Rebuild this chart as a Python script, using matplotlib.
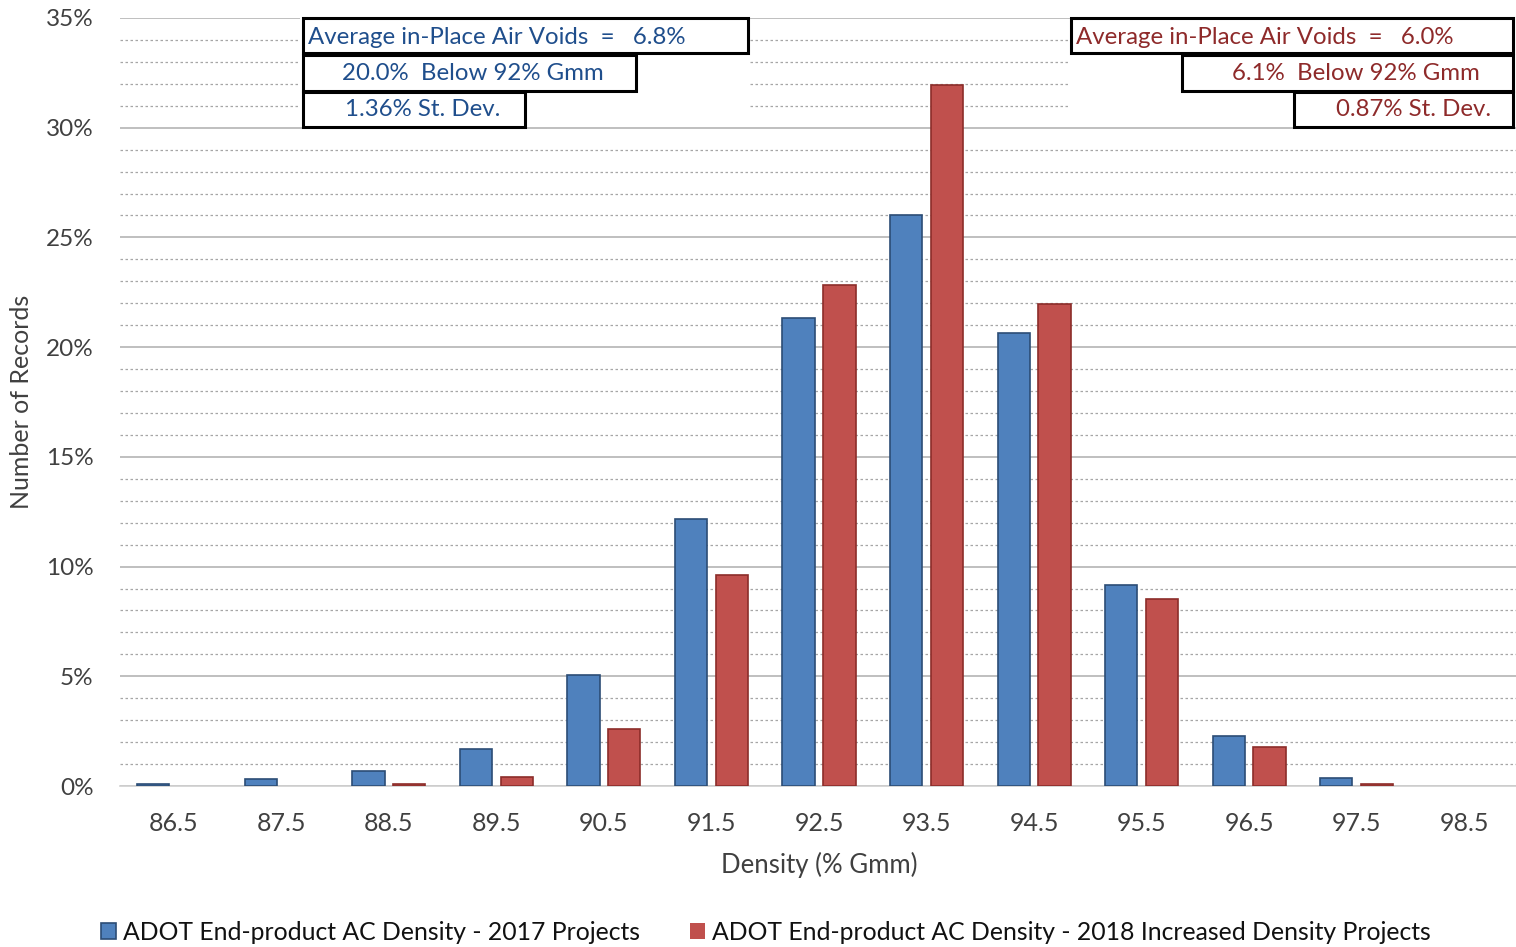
import matplotlib
matplotlib.use("Agg")
import matplotlib.pyplot as plt
from matplotlib.patches import Rectangle
import numpy as np

plt.rcParams['font.family'] = ['Lato', 'DejaVu Sans']

categories = ["86.5", "87.5", "88.5", "89.5", "90.5", "91.5", "92.5",
              "93.5", "94.5", "95.5", "96.5", "97.5", "98.5"]
values_2017 = [0.1, 0.3, 0.7, 1.7, 5.05, 12.15, 21.35, 26.0, 20.65, 9.15, 2.3, 0.35, 0.0]
values_2018 = [0.0, 0.0, 0.1, 0.4, 2.6, 9.6, 22.85, 31.95, 21.95, 8.5, 1.8, 0.1, 0.0]
series_names = ["ADOT End-product AC Density - 2017 Projects",
                "ADOT End-product AC Density - 2018 Increased Density Projects"]
yticks = [0, 5, 10, 15, 20, 25, 30, 35]

left_notes = ["Average in-Place Air Voids  =   6.8%", "20.0%  Below 92% Gmm", "1.36% St. Dev."]
right_notes = ["Average in-Place Air Voids  =   6.0%", "6.1%  Below 92% Gmm", "0.87% St. Dev."]

W, H = 1516, 947
fig = plt.figure(figsize=(W / 100, H / 100), dpi=100)
fig.patch.set_facecolor("white")

ax_l, ax_t, ax_r, ax_b = 120, 18, 1518, 786
ax = fig.add_axes([ax_l / W, 1 - ax_b / H, (ax_r - ax_l) / W, (ax_b - ax_t) / H])

x = np.arange(len(categories))
bw = 0.30
off = 0.19
blue = "#4F81BD"
red = "#C0504D"
lw17 = [1.2 if v > 0 else 0 for v in values_2017]
lw18 = [1.2 if v > 0 else 0 for v in values_2018]
ax.bar(x - off, values_2017, width=bw, color=blue, edgecolor="#2C4D75", linewidth=lw17,
       label=series_names[0], zorder=3)
ax.bar(x + off, values_2018, width=bw, color=red, edgecolor="#8C2D2A", linewidth=lw18,
       label=series_names[1], zorder=3)

ax.set_xlim(-0.5, len(categories) - 0.5)
ax.set_ylim(0, 35)
ax.set_yticks(yticks)
ax.set_yticklabels([f"{v}%" for v in yticks])
ax.set_yticks(np.arange(0, 36, 1), minor=True)
ax.set_xticks(x)
ax.set_xticklabels(categories)
ax.grid(axis="y", which="major", color="#BFBFBF", linewidth=1.4, linestyle="-", zorder=0)
ax.grid(axis="y", which="minor", color="#A6A6A6", linewidth=0.9, linestyle=(0, (2.0, 2.0)), zorder=0)
ax.tick_params(axis="both", which="both", length=0)
ax.tick_params(axis="y", labelsize=17.5, pad=19, colors="#404040")
ax.tick_params(axis="x", labelsize=18, pad=19, colors="#404040")
for s in ["top", "right", "left"]:
    ax.spines[s].set_visible(False)
ax.spines["bottom"].set_color("#D0D0D0")
ax.spines["bottom"].set_linewidth(1.2)
ax.set_axisbelow(True)

ax.set_xlabel("Density (% Gmm)", fontsize=18.5, color="#404040", labelpad=12)
fig.text(22 / W, 1 - 402 / H, "Number of Records", rotation=90, ha="center", va="center",
         fontsize=18, color="#404040")


def px_rect(x0, y0, x1, y1, **kw):
    r = Rectangle((x0 / W, 1 - y1 / H), (x1 - x0) / W, (y1 - y0) / H,
                  transform=fig.transFigure, **kw)
    fig.patches.append(r)


def px_text(px, py, s, **kw):
    fig.text(px / W, 1 - py / H, s, va="center", **kw)


# white backgrounds behind the note boxes
px_rect(300, 15, 750, 125, facecolor="white", edgecolor="none", zorder=4)
px_rect(1070, 15, 1516, 125, facecolor="white", edgecolor="none", zorder=4)

box_kw = dict(facecolor="white", edgecolor="black", linewidth=2.2, zorder=5)
lbox = [(303, 18, 748, 53), (303, 55, 636, 91), (303, 92, 525, 127)]
rbox = [(1071, 18, 1513, 53), (1182, 55, 1513, 91), (1294, 92, 1513, 127)]
for b in lbox + rbox:
    px_rect(*b, **box_kw)

lc = "#1F4E8C"
rc = "#8E2A2A"
fs = 17.3
px_text(308, 37, left_notes[0], ha="left", color=lc, fontsize=fs, zorder=6)
px_text(473, 74, left_notes[1], ha="center", color=lc, fontsize=fs, zorder=6)
px_text(423, 110, left_notes[2], ha="center", color=lc, fontsize=fs, zorder=6)
px_text(1076, 37, right_notes[0], ha="left", color=rc, fontsize=fs, zorder=6)
px_text(1480, 74, right_notes[1], ha="right", color=rc, fontsize=fs, zorder=6)
px_text(1491, 110, right_notes[2], ha="right", color=rc, fontsize=fs, zorder=6)

leg = fig.legend(loc="center", bbox_to_anchor=(766 / W, 1 - 932 / H), ncol=2, frameon=False,
                 fontsize=17.8, handlelength=0.6, handleheight=0.6, handletextpad=0.3,
                 columnspacing=2.0, labelcolor="#111111")

fig.savefig("out.png", dpi=100, facecolor="white")
